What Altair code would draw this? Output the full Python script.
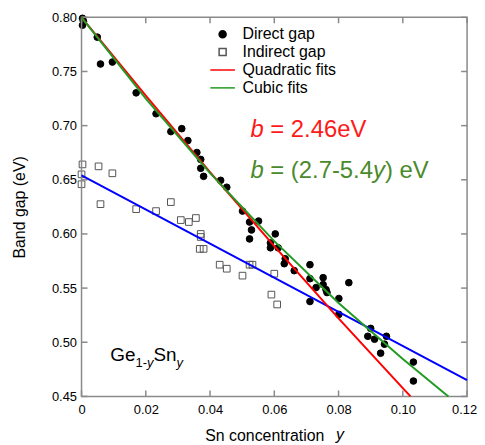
import altair as alt
import pandas as pd

# ---- data ----
direct_x = [0.0003, 0.0006, 0.0003, 0.0049, 0.0059, 0.0096, 0.0170, 0.0232, 0.0278, 0.0312,
            0.0331, 0.0359, 0.0371, 0.0371, 0.0380, 0.0433, 0.0452, 0.0501, 0.0523, 0.0551,
            0.0529, 0.0523, 0.0603, 0.0588, 0.0588, 0.0612, 0.0634, 0.0631, 0.0662, 0.0711,
            0.0711, 0.0730, 0.0752, 0.0752, 0.0761, 0.0764, 0.0832, 0.0801, 0.0711, 0.0801,
            0.0900, 0.0891, 0.0912, 0.0949, 0.0943, 0.0931, 0.1033, 0.1033]
direct_y = [0.7991, 0.7963, 0.7927, 0.7817, 0.7569, 0.7587, 0.7303, 0.7110, 0.6945, 0.6972,
            0.6862, 0.6752, 0.6688, 0.6606, 0.6532, 0.6495, 0.6431, 0.6211, 0.6110, 0.6119,
            0.6037, 0.5954, 0.6000, 0.5917, 0.5872, 0.5872, 0.5771, 0.5725, 0.5661, 0.5716,
            0.5587, 0.5505, 0.5596, 0.5532, 0.5486, 0.5459, 0.5550, 0.5404, 0.5376, 0.5257,
            0.5128, 0.5055, 0.5028, 0.5055, 0.4982, 0.4899, 0.4817, 0.4642]

indirect_x = [0.0003, 0.0, 0.0, 0.0053, 0.0096, 0.0059, 0.0170, 0.0232, 0.0278, 0.0309,
              0.0334, 0.0356, 0.0371, 0.0371, 0.0368, 0.0380, 0.0430, 0.0452, 0.0523, 0.0532,
              0.0501, 0.0600, 0.0591, 0.0609]
indirect_y = [0.6642, 0.6550, 0.6459, 0.6624, 0.6560, 0.6275, 0.6229, 0.6211, 0.6294, 0.6128,
              0.6110, 0.6147, 0.6000, 0.5972, 0.5862, 0.5862, 0.5716, 0.5679, 0.5716, 0.5716,
              0.5615, 0.5633, 0.5440, 0.5349]

quad_x = [0.0, 0.02, 0.04, 0.06, 0.08, 0.10, 0.1024]
quad_y = [0.800, 0.7276, 0.6571, 0.5887, 0.5221, 0.4576, 0.450]
cubic_x = [0.0, 0.02, 0.04, 0.06, 0.08, 0.10, 0.1142]
cubic_y = [0.800, 0.7250, 0.6562, 0.5934, 0.5363, 0.4846, 0.450]
blue_x = [0.0, 0.12]
blue_y = [0.654, 0.465]

x_ticks = [0, 0.02, 0.04, 0.06, 0.08, 0.10, 0.12]
y_ticks = [0.45, 0.50, 0.55, 0.60, 0.65, 0.70, 0.75, 0.80]
series_names = ["Direct gap", "Indirect gap", "Quadratic fits", "Cubic fits"]

# annotations
ann_text = ["b", "= 2.46eV", "b", "= (2.7-5.4", "y", ") eV", "Ge", "1-", "y", "Sn", "y"]
ann_x = [0.05258, 0.05876, 0.05258, 0.05876, 0.09074, 0.09446, 0.00897, 0.01679, 0.02038, 0.02239, 0.02957]
ann_y = [0.6894, 0.6894, 0.6520, 0.6520, 0.6520, 0.6520, 0.4826, 0.4771, 0.4771, 0.4826, 0.4771]
ann_color = ["#ff1a1a", "#ff1a1a", "#4a8a2c", "#4a8a2c", "#4a8a2c", "#4a8a2c",
             "black", "black", "black", "black", "black"]
ann_size = [24, 24, 24, 24, 24, 24, 19, 13, 13, 19, 13]
ann_italic = [True, False, True, False, True, False, False, False, True, False, True]

FONT = "Liberation Sans"
AX = "#8a8a8a"
W, H = 388, 381.5
TICK = 6

pts = pd.concat([
    pd.DataFrame({"x": direct_x, "y": direct_y, "series": "Direct gap"}),
    pd.DataFrame({"x": indirect_x, "y": indirect_y, "series": "Indirect gap"}),
])
fits = pd.concat([
    pd.DataFrame({"x": quad_x, "y": quad_y, "series": "Quadratic fits"}),
    pd.DataFrame({"x": cubic_x, "y": cubic_y, "series": "Cubic fits"}),
])
blue = pd.DataFrame({"x": blue_x, "y": blue_y})
ann = pd.DataFrame({"text": ann_text, "x": ann_x, "y": ann_y, "color": ann_color,
                    "size": ann_size, "italic": ann_italic})
xt = pd.DataFrame({"x": x_ticks})
yt = pd.DataFrame({"y": y_ticks})

xs = alt.Scale(domain=[0, 0.12], nice=False, zero=False)
ys = alt.Scale(domain=[0.45, 0.80], nice=False, zero=False)
color_scale = alt.Scale(domain=series_names, range=["black", "#555555", "#ff0000", "#239a23"])
shape_scale = alt.Scale(domain=series_names,
                        range=["circle", "square", "M-3.5,0H3.5", "M-3.5,0H3.5"])
fill_scale = alt.Scale(domain=series_names,
                       range=["black", "transparent", "transparent", "transparent"])

leg = alt.Legend(title=None, orient="none", legendX=134, legendY=9, symbolSize=50,
                 symbolStrokeWidth=1.5, labelFontSize=16, labelFont=FONT, labelColor="black",
                 labelOffset=12, rowPadding=2, padding=0)

x_axis = alt.Axis(values=x_ticks, labelExpr="datum.value == 0 ? '0' : format(datum.value, '.2f')",
                  domain=False, ticks=False, tickSize=0, labelPadding=7, grid=False,
                  labelFontSize=13, labelFont=FONT, labelColor="black", labelFlush=False,
                  labelOffset={"condition": {"test": "datum.value > 0.11", "value": -3}, "value": 0},
                  title="Sn concentration", titleX=124, titleY=31, titleAlign="left",
                  titleFontSize=16, titleFont=FONT, titleFontWeight="normal",
                  titleColor="black")
y_axis = alt.Axis(values=y_ticks, format=".2f", domain=False, ticks=False, tickSize=0,
                  labelPadding=5, grid=False, labelFontSize=13,
                  labelFont=FONT, labelColor="black", labelFlush=False,
                  title="Band gap (eV)", titleFontSize=16, titleFont=FONT,
                  titleFontWeight="normal", titleColor="black", titlePadding=24)


def xq(f):
    return alt.X(f, scale=xs, axis=x_axis)


def yq(f):
    return alt.Y(f, scale=ys, axis=y_axis)


frame = alt.Chart(pd.DataFrame({"a": [0]})).mark_rect(
    fill="transparent", stroke=AX, strokeWidth=1.5).encode(
    x=alt.value(0), x2=alt.value(W), y=alt.value(0), y2=alt.value(H))

tick_style = dict(color=AX, strokeWidth=1.5)
ticks_bottom = alt.Chart(xt).mark_rule(**tick_style).encode(
    x=xq("x:Q"), y=alt.value(H), y2=alt.value(H - TICK))
ticks_top = alt.Chart(xt).mark_rule(**tick_style).encode(
    x=xq("x:Q"), y=alt.value(0), y2=alt.value(TICK))
ticks_left = alt.Chart(yt).mark_rule(**tick_style).encode(
    y=yq("y:Q"), x=alt.value(0), x2=alt.value(TICK))
ticks_right = alt.Chart(yt).mark_rule(**tick_style).encode(
    y=yq("y:Q"), x=alt.value(W), x2=alt.value(W - TICK))

blue_layer = alt.Chart(blue).mark_line(color="#0000ff", strokeWidth=2).encode(
    x=xq("x:Q"), y=yq("y:Q"))
fit_layer = alt.Chart(fits).mark_line(strokeWidth=2).encode(
    x=xq("x:Q"), y=yq("y:Q"),
    color=alt.Color("series:N", scale=color_scale, legend=leg),
    detail="series:N",
)
pt_layer = alt.Chart(pts).mark_point(size=45, strokeWidth=1, opacity=1).encode(
    x=xq("x:Q"), y=yq("y:Q"),
    color=alt.Color("series:N", scale=color_scale, legend=leg),
    fill=alt.Fill("series:N", scale=fill_scale, legend=leg),
    shape=alt.Shape("series:N", scale=shape_scale, legend=leg),
)


def text_layer(italic):
    return alt.Chart(ann[ann["italic"] == italic]).mark_text(
        align="left", baseline="alphabetic", font=FONT,
        fontStyle="italic" if italic else "normal").encode(
        x=xq("x:Q"), y=yq("y:Q"),
        text="text:N",
        color=alt.Color("color:N", scale=None),
        size=alt.Size("size:Q", scale=None),
    )


xtitle_y = alt.Chart(pd.DataFrame({"t": ["y"]})).mark_text(
    align="left", baseline="top", font=FONT, fontSize=16, fontStyle="italic",
    color="black").encode(x=alt.value(256), y=alt.value(412.5), text="t:N")

chart = alt.layer(
    pt_layer, frame, ticks_bottom, ticks_top, ticks_left, ticks_right,
    blue_layer, fit_layer, text_layer(False), text_layer(True), xtitle_y
).properties(
    width=W, height=H,
    padding={"left": 74, "top": 8, "right": 10, "bottom": 45},
    autosize=alt.AutoSizeParams(type="none"),
).configure_view(strokeWidth=0)

chart.save("out.html", embed_options={"renderer": "svg", "actions": False})
